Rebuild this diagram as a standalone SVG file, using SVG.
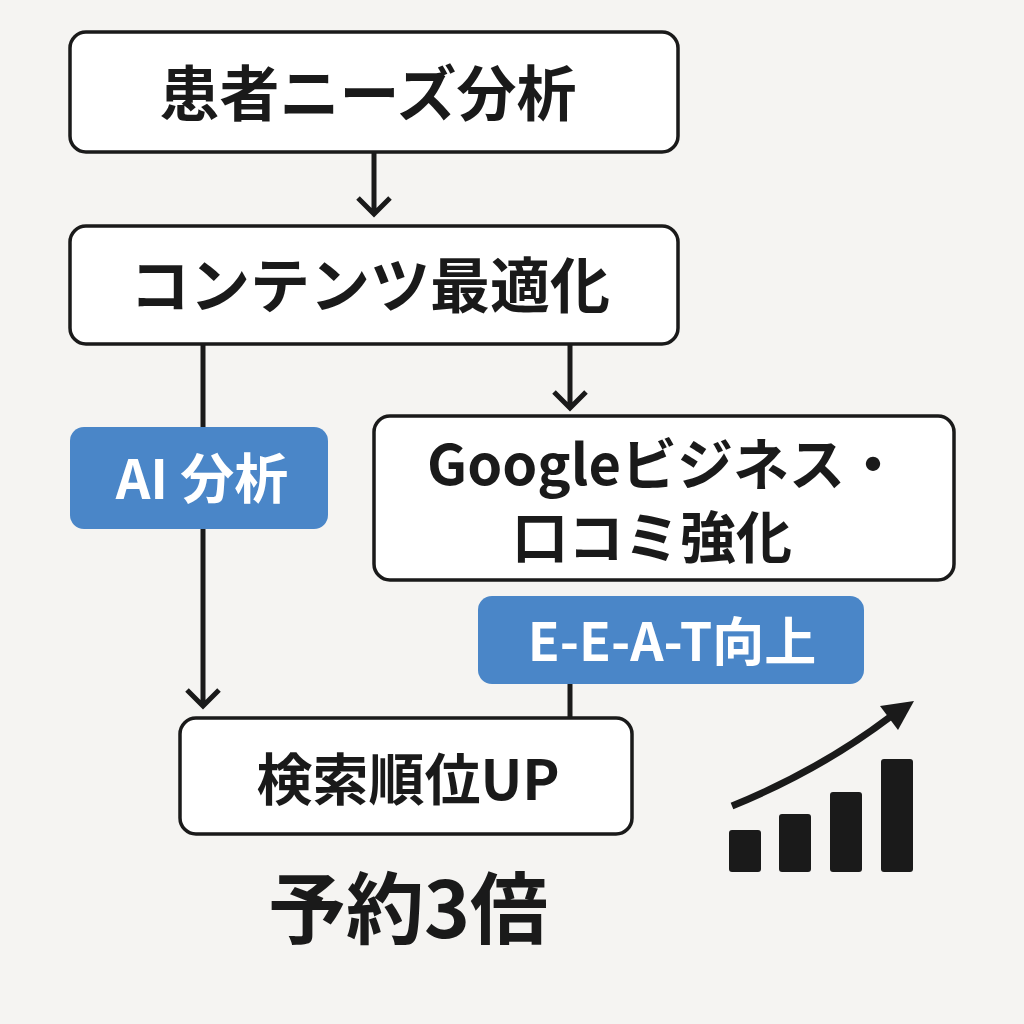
<svg xmlns="http://www.w3.org/2000/svg" width="1024" height="1024" viewBox="0 0 1024 1024">
<defs>
<style>
.box{fill:#fff;stroke:#1a1a1a;stroke-width:3.5}
.tag{fill:#4a86c8}
.t{font-family:"Noto Sans CJK JP","Noto Sans",sans-serif;font-weight:700;fill:#1a1a1a;text-anchor:middle}
.w{fill:#fff}
.c{stroke:#1a1a1a;stroke-width:5;fill:none}
</style>
</defs>
<rect width="1024" height="1024" fill="#f5f4f2"/>
<g id="connectors">
<path class="c" d="M374 152V214M358 198L374 214L390 198"/>
<path class="c" d="M203 344V706M187 690L203 706L219 690"/>
<path class="c" d="M570 344V408M554 392L570 408L586 392"/>
<path class="c" d="M570 684V718"/>
</g>
<g id="n1"><rect class="box" x="70" y="32" width="608" height="120" rx="16"/><text class="t" x="368" y="116" font-size="60">患者ニーズ分析</text></g>
<g id="n2"><rect class="box" x="70" y="226" width="608" height="118" rx="16"/><text class="t" x="370" y="308" font-size="60">コンテンツ最適化</text></g>
<g id="n3"><rect class="box" x="374" y="416" width="580" height="164" rx="16"/><text class="t" x="664" y="485" font-size="56">Googleビジネス・</text><text class="t" x="652" y="558" font-size="56">口コミ強化</text></g>
<g id="n4"><rect class="box" x="180" y="718" width="452" height="116" rx="16"/><text class="t" x="408" y="800" font-size="56">検索順位UP</text></g>
<g id="tag1"><rect class="tag" x="70" y="427" width="258" height="102" rx="14"/><text class="t w" x="202" y="499" font-size="54">AI 分析</text></g>
<g id="tag2"><rect class="tag" x="478" y="596" width="386" height="88" rx="14"/><text class="t w" x="672" y="661" font-size="52">E-E-A-T向上</text></g>
<g id="result"><text class="t" x="408" y="938" font-size="78">予約3倍</text></g>
<g id="chart" fill="#1a1a1a">
<rect x="729" y="830" width="32" height="42" rx="3"/>
<rect x="779" y="814" width="32" height="58" rx="3"/>
<rect x="830" y="792" width="32" height="80" rx="3"/>
<rect x="881" y="759" width="32" height="113" rx="3"/>
<path d="M732 806Q820 770 890 717" stroke="#1a1a1a" stroke-width="7" fill="none"/>
<path d="M914 701L880 706L898 730Z"/>
</g>
</svg>
